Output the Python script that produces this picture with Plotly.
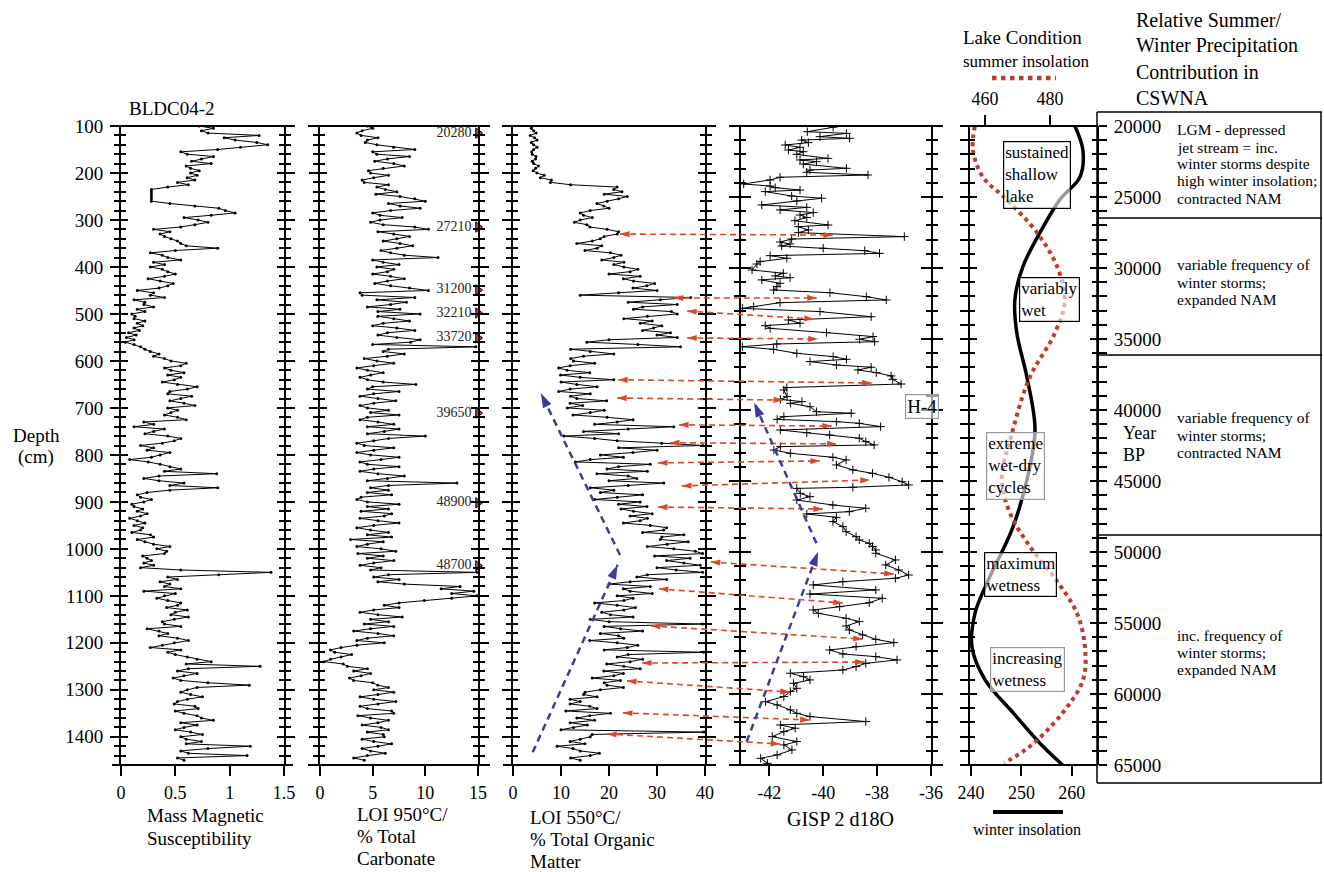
import math
import plotly.graph_objects as go

W, H = 1324, 872
FONT = "Liberation Serif, Times New Roman, serif"

# ---------------- data ----------------
depth_cm = [100, 110, 120, 130, 140, 150, 160, 170, 180, 190,
            200, 210, 220, 230, 240, 250, 260, 270, 280, 290,
            300, 310, 320, 330, 340, 350, 360, 370, 380, 390,
            400, 410, 420, 430, 440, 450, 460, 470, 480, 490,
            500, 510, 520, 530, 540, 550, 560, 570, 580, 590,
            600, 610, 620, 630, 640, 650, 660, 670, 680, 690,
            700, 710, 720, 730, 740, 750, 760, 770, 780, 790,
            800, 810, 820, 830, 840, 850, 860, 870, 880, 890,
            900, 910, 920, 930, 940, 950, 960, 970, 980, 990,
            1000, 1010, 1020, 1030, 1040, 1050, 1060, 1070, 1080, 1090,
            1100, 1110, 1120, 1130, 1140, 1150, 1160, 1170, 1180, 1190,
            1200, 1210, 1220, 1230, 1240, 1250, 1260, 1270, 1280, 1290,
            1300, 1310, 1320, 1330, 1340, 1350, 1360, 1370, 1380, 1390,
            1400, 1410, 1420, 1430, 1440, 1450]

depth_mid_cm = [105, 115, 125, 135, 145, 155, 165, 175, 185, 195,
                205, 215, 225, 235, 245, 255, 265, 275, 285, 295,
                305, 315, 325, 335, 345, 355, 365, 375, 385, 395,
                405, 415, 425, 435, 445, 455, 465, 475, 485, 495,
                505, 515, 525, 535, 545, 555, 565, 575, 585, 595,
                605, 615, 625, 635, 645, 655, 665, 675, 685, 695,
                705, 715, 725, 735, 745, 755, 765, 775, 785, 795,
                805, 815, 825, 835, 845, 855, 865, 875, 885, 895,
                905, 915, 925, 935, 945, 955, 965, 975, 985, 995,
                1005, 1015, 1025, 1035, 1045, 1055, 1065, 1075, 1085, 1095,
                1105, 1115, 1125, 1135, 1145, 1155, 1165, 1175, 1185, 1195,
                1205, 1215, 1225, 1235, 1245, 1255, 1265, 1275, 1285, 1295,
                1305, 1315, 1325, 1335, 1345, 1355, 1365, 1375, 1385, 1395,
                1405, 1415, 1425, 1435, 1445]

mag_susc = [0.72, 0.74, 1.27, 1.05, 1.35, 0.89, 0.61, 0.74, 0.83, 0.64,
            0.64, 0.61, 0.52, 0.43, 0.28, 0.28, 0.28, 0.68, 0.96, 0.83,
            0.71, 0.68, 0.30, 0.36, 0.46, 0.55, 0.89, 0.27, 0.43, 0.30,
            0.27, 0.43, 0.40, 0.36, 0.43, 0.15, 0.27, 0.12, 0.21, 0.15,
            0.10, 0.12, 0.15, 0.12, 0.07, 0.05, 0.04, 0.18, 0.27, 0.30,
            0.46, 0.55, 0.46, 0.43, 0.49, 0.52, 0.61, 0.43, 0.55, 0.58,
            0.43, 0.46, 0.52, 0.21, 0.12, 0.30, 0.43, 0.49, 0.18, 0.24,
            0.36, 0.08, 0.36, 0.55, 0.88, 0.21, 0.58, 0.89, 0.24, 0.18,
            0.21, 0.12, 0.15, 0.18, 0.15, 0.12, 0.18, 0.27, 0.15, 0.30,
            0.33, 0.40, 0.24, 0.21, 0.18, 1.38, 0.43, 0.36, 0.40, 0.21,
            0.40, 0.43, 0.52, 0.61, 0.46, 0.49, 0.40, 0.24, 0.43, 0.52,
            0.49, 0.27, 0.43, 0.61, 0.83, 1.28, 0.52, 0.58, 0.55, 1.18,
            0.61, 0.64, 0.61, 0.49, 0.71, 0.58, 0.74, 0.55, 0.58, 0.64,
            0.55, 0.74, 1.19, 0.55, 1.16, 0.58]

mag_susc_mid = [0.85, 0.80, 0.95, 1.25, 1.10, 0.55, 0.85, 0.65, 0.60, 0.72,
                0.70, 0.68, 0.62, 0.28, 0.28, 0.28, 0.45, 0.90, 1.05, 0.58,
                0.80, 0.55, 0.45, 0.40, 0.52, 0.60, 0.50, 0.38, 0.55, 0.40,
                0.38, 0.50, 0.25, 0.48, 0.35, 0.30, 0.40, 0.22, 0.30, 0.22,
                0.13, 0.22, 0.20, 0.17, 0.14, 0.12, 0.12, 0.22, 0.35, 0.40,
                0.60, 0.40, 0.58, 0.55, 0.38, 0.70, 0.45, 0.65, 0.45, 0.68,
                0.52, 0.40, 0.60, 0.30, 0.40, 0.22, 0.55, 0.38, 0.30, 0.45,
                0.28, 0.25, 0.45, 0.40, 0.35, 0.35, 0.45, 0.45, 0.15, 0.28,
                0.10, 0.20, 0.24, 0.08, 0.22, 0.20, 0.10, 0.30, 0.22, 0.45,
                0.42, 0.20, 0.28, 0.30, 0.55, 0.90, 0.52, 0.45, 0.55, 0.50,
                0.33, 0.55, 0.42, 0.50, 0.62, 0.38, 0.55, 0.35, 0.35, 0.62,
                0.38, 0.55, 0.50, 0.70, 0.60, 0.62, 0.70, 0.48, 0.80, 0.70,
                0.55, 0.75, 0.52, 0.68, 0.50, 0.70, 0.85, 0.70, 0.50, 0.75,
                0.60, 0.60, 0.80, 0.62, 0.52]

loi950 = [4.5, 4.0, 3.9, 4.5, 5.4, 9.0, 5.4, 6.4, 7.0, 6.0,
          4.8, 5.1, 4.2, 5.4, 7.3, 7.6, 10.0, 7.6, 6.7, 5.7,
          5.7, 6.0, 10.3, 7.0, 7.3, 7.6, 7.3, 6.7, 11.2, 6.0,
          5.4, 6.4, 6.7, 6.4, 6.7, 10.3, 4.0, 5.4, 6.7, 7.6,
          9.5, 7.0, 6.0, 7.3, 6.4, 7.3, 8.6, 14.8, 6.0, 6.4,
          5.4, 5.1, 4.5, 4.8, 4.5, 9.1, 4.5, 5.1, 5.5, 5.1,
          4.5, 4.8, 4.5, 5.5, 4.5, 6.1, 10.0, 5.1, 4.2, 5.1,
          4.8, 5.8, 4.5, 5.1, 5.5, 6.4, 13.0, 4.8, 4.5, 3.9,
          4.5, 4.5, 3.9, 6.1, 5.5, 5.1, 4.8, 4.5, 2.9, 4.5,
          5.8, 3.6, 4.5, 5.1, 5.8, 14.9, 5.1, 5.5, 13.3, 14.6,
          14.9, 9.9, 6.1, 5.1, 5.5, 4.8, 4.2, 4.8, 5.5, 4.5,
          6.1, 2.0, 1.4, 2.0, 0.4, 2.6, 3.2, 3.9, 3.2, 5.5,
          5.1, 5.5, 5.1, 5.5, 4.5, 7.0, 4.8, 5.5, 5.8, 4.5,
          6.1, 5.1, 5.5, 4.8, 4.5, 4.2]

loi950_mid = [5.0, 3.5, 5.5, 4.3, 7.0, 5.0, 8.5, 5.2, 8.0, 4.6,
              6.5, 4.0, 6.5, 6.2, 5.3, 9.0, 6.5, 9.5, 5.0, 7.8,
              4.8, 9.0, 5.5, 8.5, 6.0, 8.8, 5.8, 8.0, 5.0, 7.5,
              7.0, 5.0, 8.0, 5.2, 8.5, 3.8, 9.0, 8.2, 4.5, 5.5,
              5.5, 8.5, 5.0, 9.0, 5.5, 9.5, 5.0, 6.5, 8.0, 4.2,
              7.0, 3.5, 6.0, 3.8, 6.0, 5.0, 7.5, 3.8, 7.2, 3.8,
              6.5, 7.5, 3.8, 7.0, 7.5, 4.5, 6.5, 3.5, 7.0, 3.5,
              7.5, 3.8, 7.5, 3.8, 8.0, 4.5, 6.5, 6.5, 6.8, 3.5,
              7.5, 6.5, 6.8, 3.8, 7.5, 3.5, 6.5, 6.8, 6.0, 3.5,
              7.2, 6.0, 7.0, 3.8, 4.8, 6.5, 7.5, 8.0, 11.5, 12.5,
              12.5, 7.5, 7.5, 3.8, 7.8, 6.5, 7.0, 3.2, 7.0, 3.5,
              3.5, 1.0, 3.0, 1.0, 2.2, 4.5, 4.8, 2.8, 5.0, 6.5,
              7.0, 3.8, 7.2, 3.8, 6.8, 3.6, 6.5, 4.0, 6.5, 6.0,
              4.0, 6.8, 4.0, 6.2, 3.2]

loi550 = [4.0, 4.3, 3.6, 5.0, 4.3, 4.3, 4.0, 4.7, 4.3, 4.7,
          5.0, 5.7, 7.8, 21.7, 22.7, 23.8, 19.6, 18.9, 16.1, 14.7,
          14.0, 15.4, 19.6, 21.7, 18.2, 13.3, 17.5, 20.3, 21.0, 23.1,
          23.1, 24.4, 26.5, 25.1, 27.9, 30.0, 14.0, 30.7, 34.2, 25.1,
          34.2, 23.1, 26.5, 29.3, 32.8, 34.2, 15.4, 34.9, 16.1, 14.7,
          12.6, 11.9, 11.3, 9.9, 21.0, 13.3, 11.9, 16.1, 13.3, 11.9,
          11.3, 16.1, 19.6, 21.7, 33.5, 14.7, 10.6, 21.7, 39.5, 30.0,
          18.2, 16.1, 28.6, 19.6, 17.5, 25.8, 31.4, 16.1, 18.2, 21.7,
          26.5, 27.9, 25.1, 24.4, 26.5, 28.6, 31.4, 35.6, 30.7, 32.1,
          33.5, 39.5, 36.9, 35.6, 30.0, 39.5, 25.8, 24.4, 28.6, 24.4,
          21.7, 23.1, 21.7, 23.1, 20.3, 16.1, 39.5, 22.4, 18.2, 23.1,
          21.7, 23.8, 39.7, 21.7, 24.4, 23.1, 18.9, 21.0, 22.4, 19.6,
          18.2, 14.7, 11.9, 11.9, 17.5, 20.3, 13.3, 11.9, 12.6, 39.7,
          16.1, 11.9, 9.2, 14.0, 16.1, 14.0]

loi550_mid = [3.8, 4.8, 4.5, 3.8, 5.0, 3.9, 4.8, 4.0, 5.3, 4.2,
              6.5, 8.0, 12.0, 21.0, 19.0, 22.0, 17.5, 20.0, 14.0, 16.5,
              12.8, 16.0, 22.0, 19.0, 16.5, 18.5, 15.0, 22.5, 18.5, 21.0,
              26.0, 20.0, 23.0, 29.5, 25.0, 22.0, 37.0, 24.0, 27.0, 33.0,
              28.0, 29.0, 31.0, 27.0, 30.0, 20.0, 26.0, 12.0, 21.0, 12.0,
              17.0, 9.5, 16.0, 14.0, 10.0, 17.5, 9.5, 12.0, 19.5, 14.5,
              19.0, 12.5, 25.0, 17.0, 24.0, 22.0, 17.0, 31.0, 22.0, 25.0,
              23.0, 13.0, 22.0, 28.0, 24.0, 20.0, 24.0, 21.0, 27.0, 17.0,
              22.0, 22.5, 29.0, 28.0, 23.0, 32.0, 27.0, 31.0, 36.5, 28.0,
              38.0, 29.5, 32.0, 39.0, 34.0, 28.0, 32.0, 20.0, 23.0, 29.0,
              25.0, 17.0, 25.5, 18.5, 25.0, 20.0, 19.0, 27.0, 22.0, 16.0,
              26.0, 19.0, 24.0, 27.0, 19.5, 26.5, 23.0, 16.5, 19.0, 23.0,
              15.0, 17.5, 14.0, 16.0, 11.0, 16.0, 17.0, 15.5, 10.0, 16.5,
              14.0, 15.0, 12.5, 18.0, 12.0]

age_labels = ["20280", "27210", "31200", "32210", "33720", "39650", "48900", "48700"]
age_depth = [115, 315, 449, 498, 551, 711, 902, 1036]

gisp_year = [20090, 20400, 20520, 20750, 20870, 20990, 21170, 21340, 21500, 21690,
             21810, 22000, 22280, 22390, 22510, 22680, 22980, 23100, 23260, 23450,
             23610, 23800, 24080, 24230, 24340, 24510, 24620, 24930, 25090, 25280,
             25560, 25730, 25910, 26100, 26270, 26450, 26670, 26970, 27090, 27320,
             27510, 27790, 27960, 28170, 28310, 28450, 28610, 28780, 28970, 29130,
             29320, 29550, 29720, 30140, 30370, 30560, 30680, 30840, 31080, 31310,
             31550, 31740, 32020, 32250, 32440, 32720, 32840, 33070, 33430, 33660,
             33890, 34060, 34250, 34550, 34830, 35020, 35190, 35350, 35540, 35730,
             36010, 36240, 36430, 36590, 36830, 36990, 37180, 37370, 37600, 37840,
             38170, 38420, 38590, 39060, 39250, 39410, 39530, 39770, 40120, 40230,
             40470, 40660, 40820, 40940, 41170, 41410, 41600, 41760, 41990, 42230,
             42460, 42580, 42820, 43050, 43330, 43520, 43870, 44220, 44460, 44740,
             45050, 45280, 45440, 45520, 45870, 46100, 46340, 46690, 46920, 47160,
             47320, 47560, 47860, 48210, 48570, 48920, 49150, 49390, 49620, 49860,
             50090, 50560, 50910, 51270, 51620, 51850, 52090, 52320, 52670, 52960,
             53260, 53570, 53850, 54080, 54320, 54670, 54900, 55210, 55490, 55840,
             56150, 56380, 56660, 56900, 57180, 57370, 57600, 57840, 58070, 58310,
             58540, 58780, 59010, 59250, 59600, 59830, 60180, 60540, 60770, 61120,
             61360, 61590, 61940, 62180, 62410, 62650, 63000, 63350, 63590, 63940,
             64290, 64530, 64880]

gisp_d18o = [-39.63, -40.59, -39.14, -40.12, -39.02, -40.80, -40.55, -41.41, -40.86, -41.29,
             -40.74, -40.98, -39.82, -40.86, -40.25, -40.74, -39.14, -40.49, -40.61, -38.34,
             -41.60, -41.97, -42.95, -41.97, -41.78, -40.86, -42.15, -41.17, -40.06, -40.98,
             -42.28, -40.61, -41.60, -40.37, -40.86, -40.61, -41.05, -39.82, -40.92, -40.55,
             -40.92, -36.99, -41.17, -41.60, -41.23, -41.54, -40.00, -38.46, -37.91, -41.97,
             -41.35, -42.34, -42.46, -42.64, -41.48, -41.78, -41.23, -42.28, -41.60, -41.72,
             -41.84, -39.75, -38.40, -37.66, -41.60, -42.58, -43.00, -40.12, -38.22, -41.29,
             -40.86, -42.15, -41.97, -39.88, -38.15, -38.65, -38.09, -41.72, -43.00, -41.84,
             -40.98, -39.63, -39.14, -40.49, -39.51, -38.22, -38.71, -38.03, -37.48, -37.42,
             -37.11, -41.35, -41.46, -41.34, -41.59, -40.79, -41.22, -40.49, -40.25, -38.96,
             -41.46, -41.71, -39.51, -38.66, -37.87, -41.59, -40.61, -39.76, -38.66, -38.42,
             -38.11, -41.59, -41.83, -41.22, -39.64, -39.15, -39.51, -38.90, -38.17, -37.56,
             -37.07, -36.83, -38.90, -40.98, -40.85, -40.49, -40.98, -39.64, -38.42, -39.03,
             -40.61, -39.51, -39.64, -39.27, -39.15, -38.78, -38.66, -38.29, -38.17, -38.05,
             -38.05, -37.32, -37.68, -37.20, -36.83, -37.32, -39.27, -40.37, -38.05, -40.49,
             -37.81, -38.29, -39.39, -40.37, -40.18, -39.15, -38.66, -39.15, -39.03, -38.54,
             -38.05, -37.38, -38.78, -39.76, -39.27, -38.05, -37.26, -38.42, -38.78, -39.27,
             -41.22, -40.73, -40.49, -41.10, -40.98, -41.22, -41.46, -42.14, -41.71, -41.22,
             -40.98, -40.49, -38.42, -41.59, -41.04, -41.46, -41.89, -40.98, -41.46, -41.16,
             -41.71, -42.32, -42.07]

winter_year = [20000, 21700, 23600, 25200, 27500, 29900, 32250, 34600, 37700, 41400,
               44900, 48450, 52000, 54300, 56700, 59000, 61300, 63700, 65000]
winter_ins = [260.6, 262.2, 261.6, 257.6, 253.7, 250.3, 248.7, 249.1, 251.1, 252.7,
              251.1, 248.1, 243.4, 240.8, 240.2, 242.8, 248.3, 254.3, 258.2]

summer_year = [20000, 21700, 23600, 25200, 27500, 29900, 32250, 34600, 37700, 41400,
               44900, 47250, 49600, 52000, 54300, 56700, 59000, 61300, 63700, 64850]
summer_ins = [456.9, 456.3, 459.4, 466.8, 476.0, 482.2, 484.6, 481.5, 473.8, 468.6,
              465.2, 467.7, 473.8, 482.0, 488.3, 490.8, 490.2, 484.0, 473.8, 466.0]

# correlation arrows (LOI 550 depth  <->  GISP 2 year)
corr_loi = [22.3, 33.5, 36.3, 36.3, 21.9, 21.7, 34.6, 32.7, 30.2, 35.2, 30.2, 41.2,
            30.4, 28.75, 26.9, 23.75, 22.9, 19.6]
corr_depth = [330, 466, 494, 551, 640, 679, 736, 774, 817, 866, 911, 1028,
              1085, 1164, 1243, 1281, 1349, 1394]
corr_d18o = [-39.64, -40.24, -40.35, -40.2, -38.2, -41.49, -39.68, -39.5, -40.12, -38.27,
             -40.01, -37.38, -39.27, -38.53, -38.46, -41.24, -40.5, -41.6]
corr_year = [27680, 32110, 33590, 35000, 38100, 39300, 41130, 42390, 43590, 44930,
             46970, 51550, 53590, 56130, 57750, 59860, 61830, 63520]

# trend arrows (tail -> head)
trend_loi_tail = [4.1, 22.3]
trend_depth_tail = [1433, 1013]
trend_loi_head = [21.8, 5.8]
trend_depth_head = [1034, 669]
trend_d18o_tail = [-42.84, -40.25]
trend_year_tail = [63360, 49390]
trend_d18o_head = [-40.19, -42.56]
trend_year_head = [49980, 39490]

# ---------------- geometry ----------------
TOP, BOT = 126, 765
DEPTH_RANGE = [1460, 100]
YEAR_RANGE = [65000, 20000]
P_MS = (121, 284, [0, 1.5])
P_C = (320, 478, [0, 15])
P_OM = (513, 705, [0, 40])
P_G = (741, 931, [-43.05, -36])
P_W = (970, 1097, [239.8, 265.0])
P_S = (970, 1097, [455.4, 494.5])


def fx(px):
    return px / W


def fy(py):
    return 1 - py / H


def to_px_x(panel, v):
    x0, x1, r = panel
    return x0 + (v - r[0]) / (r[1] - r[0]) * (x1 - x0)


def to_px_y(v, rng):
    return TOP + (v - rng[1]) / (rng[0] - rng[1]) * (BOT - TOP)


def interleave(d_a, v_a, d_b, v_b):
    dd, vv = [], []
    for i in range(len(d_a)):
        dd.append(d_a[i])
        vv.append(v_a[i])
        if i < len(d_b):
            dd.append(d_b[i])
            vv.append(v_b[i])
    return dd, vv


fig = go.Figure()
layout = dict(width=W, height=H, margin=dict(l=0, r=0, t=0, b=0, autoexpand=False),
              paper_bgcolor="white", plot_bgcolor="rgba(0,0,0,0)",
              showlegend=False, font=dict(family=FONT, color="black"))

tickfont_y = dict(family=FONT, size=19, color="black")
tickfont_x = dict(family=FONT, size=18, color="black")


def make_y(rng, anchor, tick0, dtick, mdtick, labels=False, side="left"):
    main = dict(domain=[fy(BOT), fy(TOP)], range=rng, anchor=anchor, side=side,
                showline=True, linewidth=2, linecolor="black", mirror="allticks",
                ticks="outside", ticklen=9, tickwidth=2, tickcolor="black",
                tick0=tick0, dtick=dtick, showgrid=False, zeroline=False,
                showticklabels=labels, tickfont=tickfont_y, tickformat="d",
                ticklabelstandoff=3, automargin=False,
                minor=dict(tick0=tick0, dtick=mdtick, ticks="outside", ticklen=5,
                           tickwidth=1.5, tickcolor="black", showgrid=False))
    over = dict(range=rng, anchor=anchor, side=side, showline=False, mirror="allticks",
                ticks="inside", ticklen=7, tickwidth=2, tickcolor="black",
                tick0=tick0, dtick=dtick, showgrid=False, zeroline=False,
                showticklabels=False, automargin=False,
                minor=dict(tick0=tick0, dtick=mdtick, ticks="inside", ticklen=5,
                           tickwidth=1.5, tickcolor="black", showgrid=False))
    return main, over


def make_x(panel, anchor, tickvals, ticktext=None, side="bottom"):
    x0, x1, rng = panel
    d = dict(domain=[fx(x0), fx(x1)], range=rng, anchor=anchor, side=side,
             showline=False, ticks="outside", ticklen=10, tickwidth=2, tickcolor="black",
             tickvals=tickvals, showgrid=False, zeroline=False, tickfont=tickfont_x,
             ticklabelstandoff=1, automargin=False)
    if ticktext is not None:
        d["ticktext"] = ticktext
    return d


# panel 1: magnetic susceptibility
layout["xaxis"] = make_x(P_MS, "y", [0, 0.5, 1, 1.5])
m, o = make_y(DEPTH_RANGE, "x", 100, 100, 20, labels=True)
layout["yaxis"] = m
o["overlaying"] = "y"
layout["yaxis2"] = o
# panel 2: carbonate
layout["xaxis2"] = make_x(P_C, "y3", [0, 5, 10, 15])
m, o = make_y(DEPTH_RANGE, "x2", 100, 100, 20)
layout["yaxis3"] = m
o["overlaying"] = "y3"
layout["yaxis4"] = o
# panel 3: organic matter
layout["xaxis3"] = make_x(P_OM, "y5", [0, 10, 20, 30, 40])
m, o = make_y(DEPTH_RANGE, "x3", 100, 100, 20)
layout["yaxis5"] = m
o["overlaying"] = "y5"
layout["yaxis6"] = o
# panel 4: GISP 2
layout["xaxis4"] = make_x(P_G, "y7", [-42, -40, -38, -36], ["-42", "-40", "-38", "-36"])
m, o = make_y(YEAR_RANGE, "x4", 20000, 5000, 1000)
m["ticklen"] = 10
o["ticklen"] = 10
layout["yaxis7"] = m
o["overlaying"] = "y7"
layout["yaxis8"] = o
# panel 5: insolation
layout["xaxis5"] = make_x(P_W, "y9", [240, 250, 260])
xs = make_x(P_S, "y9", [460, 480], side="top")
xs["overlaying"] = "x5"
xs["ticklabelstandoff"] = 3
layout["xaxis6"] = xs
m, o = make_y(YEAR_RANGE, "x5", 20000, 5000, 1000, labels=True, side="right")
m["ticklen"] = 8
m["ticklabelstandoff"] = 3
layout["yaxis9"] = m
o["overlaying"] = "y9"
layout["yaxis10"] = o
# overlay in pixel units for arrows
layout["xaxis7"] = dict(domain=[0, 1], range=[0, W], visible=False, anchor="y11",
                        fixedrange=True, automargin=False)
layout["yaxis11"] = dict(domain=[0, 1], range=[H, 0], visible=False, anchor="x7",
                         fixedrange=True, automargin=False)

# ---------------- traces ----------------
line_k = dict(color="black", width=1)
mk = dict(size=3, color="black")
d1, v1 = interleave(depth_cm, mag_susc, depth_mid_cm, mag_susc_mid)
d2, v2 = interleave(depth_cm, loi950, depth_mid_cm, loi950_mid)
d3, v3 = interleave(depth_cm, loi550, depth_mid_cm, loi550_mid)
fig.add_trace(go.Scatter(x=v1, y=d1, xaxis="x", yaxis="y", mode="lines+markers",
                         line=line_k, marker=mk))
fig.add_trace(go.Scatter(x=v2, y=d2, xaxis="x2", yaxis="y3", mode="lines+markers",
                         line=line_k, marker=mk))
fig.add_trace(go.Scatter(x=[15] * len(age_depth), y=age_depth, xaxis="x2", yaxis="y3",
                         mode="markers+text", text=age_labels, textposition="middle left",
                         textfont=dict(family=FONT, size=14, color="#222"), cliponaxis=False,
                         marker=dict(symbol="triangle-right", size=9, color="#c8462c",
                                     line=dict(color="black", width=1))))
fig.add_trace(go.Scatter(x=v3, y=d3, xaxis="x3", yaxis="y5", mode="lines+markers",
                         line=line_k, marker=mk))
fig.add_trace(go.Scatter(x=gisp_d18o, y=gisp_year, xaxis="x4", yaxis="y7", mode="lines+markers",
                         line=line_k,
                         marker=dict(symbol="cross-thin", size=6, color="black",
                                     line=dict(color="black", width=1))))
fig.add_trace(go.Scatter(x=summer_ins, y=summer_year, xaxis="x6", yaxis="y9", mode="lines",
                         line=dict(color="#c0392b", width=4, dash="dot", shape="spline")))
fig.add_trace(go.Scatter(x=winter_ins, y=winter_year, xaxis="x5", yaxis="y9", mode="lines",
                         line=dict(color="black", width=3.5, shape="spline")))
# dummy traces so the overlay tick axes are drawn
for xa, ya in [("x", "y2"), ("x2", "y4"), ("x3", "y6"), ("x4", "y8"), ("x5", "y10")]:
    fig.add_trace(go.Scatter(x=[None], y=[None], xaxis=xa, yaxis=ya, mode="markers",
                             hoverinfo="skip"))


def add_arrow(x0, y0, x1, y1, color, width, dash, size, double):
    fig.add_trace(go.Scatter(x=[x0, x1], y=[y0, y1], xaxis="x7", yaxis="y11", mode="lines",
                             line=dict(color=color, width=width, dash=dash), hoverinfo="skip"))
    ang = math.degrees(math.atan2(x1 - x0, -(y1 - y0)))
    xs_, ys_, an_ = [x1], [y1], [ang]
    if double:
        xs_.append(x0)
        ys_.append(y0)
        an_.append(ang + 180)
    fig.add_trace(go.Scatter(x=xs_, y=ys_, xaxis="x7", yaxis="y11", mode="markers",
                             marker=dict(symbol="arrow", size=size, angle=an_, color=color,
                                         line=dict(width=0)), hoverinfo="skip"))


RED = "#d9482b"
for lv, dv, gv, yv in zip(corr_loi, corr_depth, corr_d18o, corr_year):
    add_arrow(to_px_x(P_OM, lv), to_px_y(dv, DEPTH_RANGE),
              to_px_x(P_G, gv), to_px_y(yv, YEAR_RANGE), RED, 1.6, "6px,4px", 10, True)

BLUE = "#3c3c9a"
for i in range(2):
    add_arrow(to_px_x(P_OM, trend_loi_tail[i]), to_px_y(trend_depth_tail[i], DEPTH_RANGE),
              to_px_x(P_OM, trend_loi_head[i]), to_px_y(trend_depth_head[i], DEPTH_RANGE),
              BLUE, 2.5, "7px,5px", 15, False)
    add_arrow(to_px_x(P_G, trend_d18o_tail[i]), to_px_y(trend_year_tail[i], YEAR_RANGE),
              to_px_x(P_G, trend_d18o_head[i]), to_px_y(trend_year_head[i], YEAR_RANGE),
              BLUE, 2.5, "7px,5px", 15, False)

# ---------------- shapes ----------------
shapes = []


def hline(x0, x1, y, width=2, color="black", dash=None):
    ln = dict(color=color, width=width)
    if dash:
        ln["dash"] = dash
    shapes.append(dict(type="line", xref="paper", yref="paper", x0=fx(x0), x1=fx(x1),
                       y0=fy(y), y1=fy(y), line=ln))


def vline(x, y0, y1, width=1.5):
    shapes.append(dict(type="line", xref="paper", yref="paper", x0=fx(x), x1=fx(x),
                       y0=fy(y0), y1=fy(y1), line=dict(color="black", width=width)))


for (a, b) in [(112, 293), (308, 490), (503, 716), (732, 943), (961, 1097)]:
    hline(a, b, TOP)
    hline(a, b, BOT)

# table
hline(1097, 1322, 112, 1.5)
hline(1097, 1322, 218, 1.5)
hline(1097, 1322, 355, 1.5)
hline(1097, 1322, 535, 1.5)
hline(1097, 1322, 783, 1.5)
vline(1097, 112, 783)
vline(1321, 112, 783)

# legend keys
hline(992, 1056, 78, 4.5, "#c0392b", "dot")
hline(993, 1063, 812, 4)

# ---------------- annotations ----------------
ann = []


def txt(s, x, y, size=17, xanchor="left", yanchor="middle", **kw):
    d = dict(text=s, x=fx(x), y=fy(y), xref="paper", yref="paper", showarrow=False,
             xanchor=xanchor, yanchor=yanchor, font=dict(family=FONT, size=size, color="black"))
    d.update(kw)
    ann.append(d)


def lines(items, x, y0, dy, size, xanchor="left"):
    for i, s in enumerate(items):
        txt(s, x, y0 + i * dy, size=size, xanchor=xanchor)


txt("BLDC04-2", 127, 108, 19)
lines(["Depth", "(cm)"], 36, 435, 22, 19, xanchor="center")
lines(["Mass Magnetic", "Susceptibility"], 145, 815, 23, 19)
lines(["LOI 950°C/", "% Total", "Carbonate"], 355, 814, 22, 19)
lines(["LOI 550°C/", "% Total Organic", "Matter"], 528, 817, 22, 19)
txt("GISP 2 d18O", 840, 819, 20, xanchor="center")
txt("winter insolation", 1027, 829, 16, xanchor="center")
txt("Lake Condition", 961, 37, 19)
txt("summer insolation", 961, 62, 17)
lines(["Relative Summer/", "Winter Precipitation", "Contribution in", "CSWNA"], 1134, 20, 26, 20)
lines(["Year", "BP"], 1121, 433, 22, 18)

lines(["LGM - depressed", "jet stream = inc.", "winter storms despite",
       "high winter insolation;", "contracted NAM"], 1175, 130, 17, 15.5)
lines(["variable frequency of", "winter storms;", "expanded NAM"], 1175, 265, 17, 15.5)
lines(["variable frequency of", "winter storms;", "contracted NAM"], 1175, 418, 17, 15.5)
lines(["inc. frequency of", "winter storms;", "expanded NAM"], 1175, 635, 17, 15.5)


def box(s, x, y, color="black", size=17):
    d = dict(text=s, x=fx(x), y=fy(y), xref="paper", yref="paper", showarrow=False,
             xanchor="left", yanchor="top", align="left",
             font=dict(family=FONT, size=size, color="black"),
             bordercolor=color, borderwidth=1.2, borderpad=1,
             bgcolor="rgba(255,255,255,0.6)")
    ann.append(d)


box("sustained<br>shallow<br>lake", 1003, 141)
box("variably<br>wet", 1019, 277)
box("extreme<br>wet-dry<br>cycles", 986, 432, color="#999999")
box("maximum<br>wetness", 984, 552)
box("increasing<br>wetness", 990, 647, color="#999999")
box("H-4", 905, 394, color="#999999", size=19)

layout["shapes"] = shapes
layout["annotations"] = ann
fig.update_layout(**layout)

fig.write_html("out.html", config={"displayModeBar": False},
               post_script="document.body.style.margin='0';document.body.style.overflow='hidden';")
